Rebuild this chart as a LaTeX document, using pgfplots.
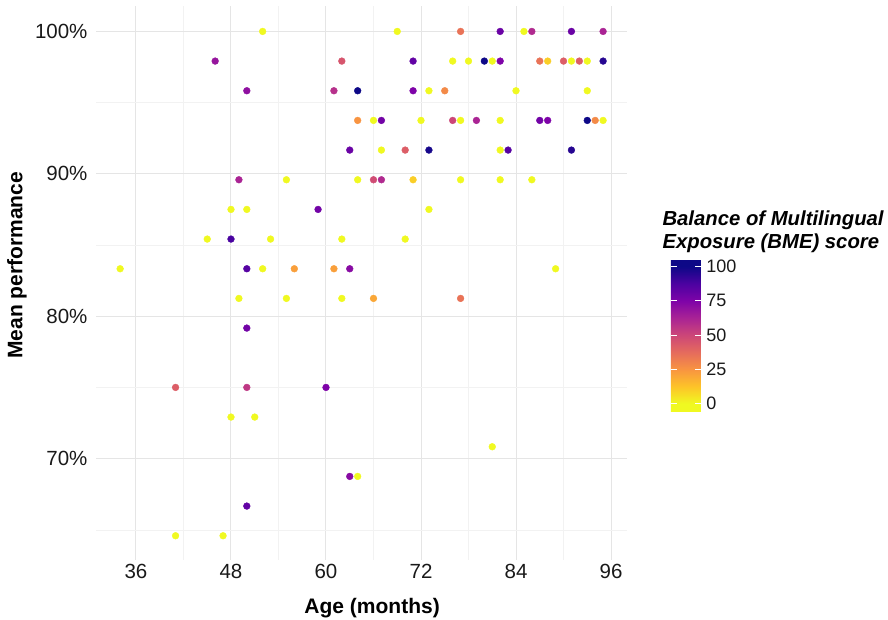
\documentclass[border=0pt]{standalone}
\usepackage{fontspec}
\setmainfont{Liberation Sans}
\usepackage{pgfplots}
\pgfplotsset{compat=1.18}

% plasma, reversed (0 = yellow, 100 = dark blue), padded so the bar runs -5.5..105.5
\pgfplotsset{
    colormap={bme}{
        rgb255(0pt)=(240,249,33)
        rgb255(11pt)=(240,249,33)
        rgb255(36pt)=(253,195,40)
        rgb255(61pt)=(248,148,65)
        rgb255(86pt)=(229,107,93)
        rgb255(111pt)=(204,70,120)
        rgb255(136pt)=(169,35,149)
        rgb255(161pt)=(126,3,168)
        rgb255(186pt)=(76,2,161)
        rgb255(211pt)=(13,8,135)
        rgb255(222pt)=(13,8,135)
    },
}

\begin{document}
\begin{tikzpicture}
\useasboundingbox (0,0) rectangle (888pt,619pt);
\begin{axis}[
    at={(96pt,59pt)},
    anchor=south west,
    scale only axis,
    width=531pt,
    height=554.2pt,
    xmin=30.95, xmax=98.02,
    ymin=62.88, ymax=101.8,
    xtick={36,48,60,72,84,96},
    xticklabels={36,48,60,72,84,96},
    minor xtick={42,54,66,78,90},
    ytick={70,80,90,100},
    yticklabels={70\%,80\%,90\%,100\%},
    minor ytick={65,75,85,95},
    grid=both,
    major grid style={draw=black!10, line width=1pt},
    minor grid style={draw=black!5, line width=0.6pt},
    axis line style={draw=none},
    major tick length=0pt,
    minor tick length=0pt,
    ticklabel style={font=\fontsize{20.5}{24}\selectfont, text=black!90},
    yticklabel style={xshift=-5pt},
    xticklabel style={yshift=-1pt},
    xlabel={Age (months)},
    ylabel={Mean performance},
    xlabel style={at={(axis description cs:0.52,0)}, anchor=base, yshift=-53pt,
        font=\fontsize{21}{25}\selectfont\bfseries},
    ylabel style={at={(axis description cs:-0.1488,0.532)}, anchor=center, rotate=0,
        font=\fontsize{21}{25}\selectfont\bfseries},
    colormap name=bme,
    point meta min=-5.5,
    point meta max=105.5,
    colorbar,
    colorbar/width=30pt,
    colorbar style={
        at={(parent axis.south east)},
        anchor=south west,
        xshift=35.2pt,
        yshift=149pt,
        scale only axis,
        width=30pt,
        height=152pt,
        ytick={0,25,50,75,100},
        yticklabels={0,25,50,75,100},
        ytick pos=both,
        yticklabel pos=right,
        tick align=inside,
        major tick length=6pt,
        tick style={draw=white, line width=0.9pt},
        axis line style={draw=none},
        yticklabel style={font=\fontsize{18}{21}\selectfont, text=black!90, xshift=2pt},
    },
]
\addplot[
    scatter,
    only marks,
    mark=*,
    mark size=3.4pt,
    scatter src=explicit,
    scatter/use mapped color={draw=mapped color, fill=mapped color},
] table[x=x, y=y, meta=c] {
x y c
52 100 0
69 100 0
77 100 35
82 100 80
85 100 0
86 100 60
91 100 80
95 100 62
46 97.917 68
62 97.917 45
71 97.917 82
76 97.917 0
78 97.917 0
80 97.917 100
81 97.917 0
82 97.917 75
87 97.917 35
88 97.917 10
90 97.917 42
91 97.917 0
92 97.917 42
93 97.917 0
95 97.917 95
50 95.833 70
61 95.833 58
64 95.833 100
71 95.833 75
73 95.833 0
75 95.833 28
84 95.833 0
93 95.833 0
64 93.75 25
66 93.75 0
67 93.75 78
72 93.75 0
76 93.75 50
77 93.75 0
79 93.75 62
82 93.75 0
87 93.75 78
88 93.75 75
93 93.75 100
94 93.75 28
95 93.75 0
63 91.667 80
67 91.667 0
70 91.667 42
73 91.667 98
82 91.667 0
83 91.667 85
91 91.667 95
49 89.583 62
55 89.583 0
64 89.583 0
66 89.583 48
67 89.583 60
71 89.583 10
77 89.583 0
82 89.583 0
86 89.583 0
48 87.5 0
50 87.5 0
59 87.5 78
73 87.5 0
45 85.417 0
48 85.417 88
53 85.417 0
62 85.417 0
70 85.417 0
34 83.333 0
50 83.333 85
52 83.333 0
56 83.333 22
61 83.333 22
63 83.333 72
89 83.333 0
49 81.25 0
55 81.25 0
62 81.25 0
66 81.25 20
77 81.25 35
50 79.167 78
41 75 42
50 75 55
60 75 75
48 72.917 0
51 72.917 0
81 70.833 0
63 68.75 72
64 68.75 0
50 66.667 82
41 64.583 0
47 64.583 0
};
\end{axis}
\node[anchor=base west, font=\fontsize{20.3}{24}\selectfont\bfseries\itshape]
    at (659pt,393pt) {Balance of Multilingual};
\node[anchor=base west, font=\fontsize{20.3}{24}\selectfont\bfseries\itshape]
    at (659pt,370pt) {Exposure (BME) score};
\end{tikzpicture}
\end{document}
